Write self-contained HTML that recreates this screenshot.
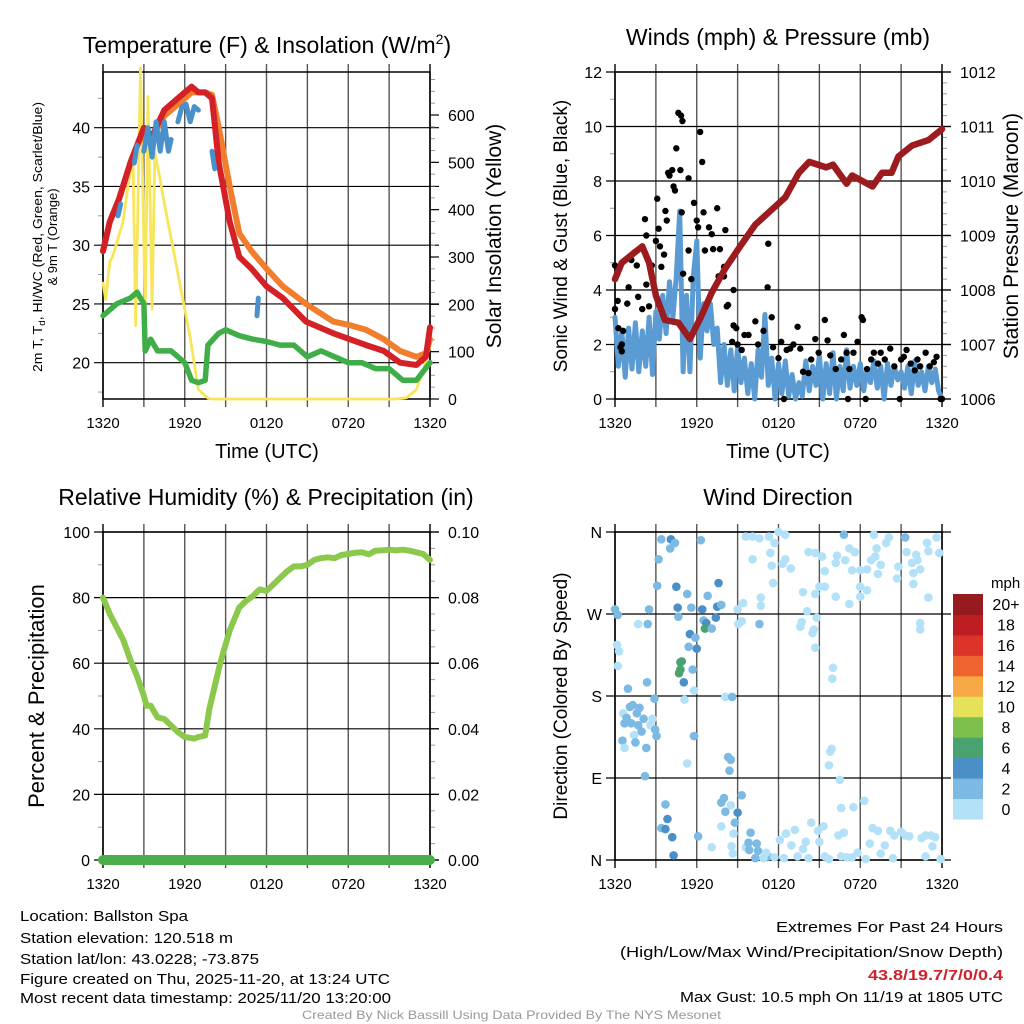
<!DOCTYPE html>
<html><head><meta charset="utf-8"><style>
html,body{margin:0;padding:0;background:#fff;}
svg{display:block;font-family:"Liberation Sans",sans-serif;}
</style></head><body>
<svg id="fig" width="1024" height="1024" viewBox="0 0 1024 1024">
<rect width="1024" height="1024" fill="#fff"/>
<!-- titles -->
<text x="267" y="53" font-size="23" text-anchor="middle">Temperature (F) &amp; Insolation (W/m<tspan dy="-9" font-size="14">2</tspan><tspan dy="9">)</tspan></text>
<text x="778" y="45" font-size="23" text-anchor="middle">Winds (mph) &amp; Pressure (mb)</text>
<text x="266" y="505" font-size="23" text-anchor="middle">Relative Humidity (%) &amp; Precipitation (in)</text>
<text x="778" y="505" font-size="23" text-anchor="middle">Wind Direction</text>
<!-- axis titles -->
<text x="267" y="458" font-size="20" text-anchor="middle">Time (UTC)</text>
<text x="778" y="458" font-size="20" text-anchor="middle">Time (UTC)</text>
<text transform="translate(42,237) rotate(-90)" font-size="13" text-anchor="middle" textLength="270" lengthAdjust="spacingAndGlyphs">2m T, T<tspan font-size="9" dy="3">d</tspan><tspan dy="-3">, HI/WC (Red, Green, Scarlet/Blue)</tspan></text>
<text transform="translate(57,237) rotate(-90)" font-size="13" text-anchor="middle">&amp; 9m T (Orange)</text>
<text transform="translate(501,236) rotate(-90)" font-size="21" text-anchor="middle">Solar Insolation (Yellow)</text>
<text transform="translate(567,236) rotate(-90)" font-size="19" text-anchor="middle">Sonic Wind &amp; Gust (Blue, Black)</text>
<text transform="translate(1018,236) rotate(-90)" font-size="21" text-anchor="middle">Station Pressure (Maroon)</text>
<text transform="translate(44,696) rotate(-90)" font-size="22" text-anchor="middle">Percent &amp; Precipitation</text>
<text transform="translate(567,696) rotate(-90)" font-size="19" text-anchor="middle">Direction (Colored By Speed)</text>
<g id="layers"></g>
<!-- footer -->
<g font-size="15">
<text x="20" y="921" textLength="168" lengthAdjust="spacingAndGlyphs">Location: Ballston Spa</text>
<text x="20" y="943" textLength="213" lengthAdjust="spacingAndGlyphs">Station elevation: 120.518 m</text>
<text x="20" y="964" textLength="239" lengthAdjust="spacingAndGlyphs">Station lat/lon: 43.0228; -73.875</text>
<text x="20" y="984" textLength="370" lengthAdjust="spacingAndGlyphs">Figure created on Thu, 2025-11-20, at 13:24 UTC</text>
<text x="20" y="1003" textLength="371" lengthAdjust="spacingAndGlyphs">Most recent data timestamp: 2025/11/20 13:20:00</text>
</g>
<g font-size="15">
<text x="776" y="932" textLength="227" lengthAdjust="spacingAndGlyphs">Extremes For Past 24 Hours</text>
<text x="620" y="957" textLength="383" lengthAdjust="spacingAndGlyphs">(High/Low/Max Wind/Precipitation/Snow Depth)</text>
<text x="868" y="980" textLength="135" lengthAdjust="spacingAndGlyphs" font-weight="bold" fill="#d0202a">43.8/19.7/7/0/0.4</text>
<text x="680" y="1002" textLength="323" lengthAdjust="spacingAndGlyphs">Max Gust: 10.5 mph On 11/19 at 1805 UTC</text>
</g>
<text x="302" y="1019" font-size="12" fill="#999" textLength="419" lengthAdjust="spacingAndGlyphs">Created By Nick Bassill Using Data Provided By The NYS Mesonet</text>
</svg>
<script>
// ---------- data ----------
const xTickLabels = ["1320","1920","0120","0720","1320"];
const tempTicks = [20,25,30,35,40];
const solarTicks = [0,100,200,300,400,500,600];
const windTicks = [0,2,4,6,8,10,12];
const presTicks = [1006,1007,1008,1009,1010,1011,1012];
const rhTicks = [0,20,40,60,80,100];
const precipTicks = ["0.00","0.02","0.04","0.06","0.08","0.10"];
const dirLabels = ["N","E","S","W","N"];
const speedBins = ["0","2","4","6","8","10","12","14","16","18","20+"];

const tHours = [0,0.5,1.2,2,2.5,3,3.5,4.5,5,6,6.5,7,7.5,8,8.5,9.3,10,10.9,12,13.2,14.9,16.9,18.1,19.3,20.6,21.8,23,23.7,24];
const tempRed = [29.5,32,34,37,38.5,40,39,41.5,42,43,43.5,43,43,42.5,37,32,29,28,26.5,25.5,23.5,22.5,22,21.5,21,20,19.8,20.5,23];
const temp9m =  [29.5,32,34,37,38.5,39.5,39,41,41.5,42.5,43,43,43,42.8,40,35,31,29.5,28,26.5,25,23.5,23.2,22.8,22,21,20.5,20.8,22];
const dHours = [0,0.5,1,2,2.5,3,3.1,3.5,4,5,6,6.5,7,7.5,7.7,8.5,9,10,11,12,13,14,15,16,17,18,19,20,21,22,23,24];
const dewpt =  [24,24.5,25,25.5,26,25,21,22,21,21,20,18.5,18.3,18.5,21.5,22.5,22.8,22.3,22,21.8,21.5,21.5,20.5,21,20.5,20,20,19.5,19.5,18.5,18.5,20];
const wcHours = [1.1,1.3,null,2.3,2.5,null,3.0,3.3,3.6,3.9,4.2,4.5,4.8,5.0,null,5.5,5.8,6.1,6.4,6.7,7.0,null,8.0,8.2,null,11.3,11.4];
const windChill=[32.5,33.5,null,37,38.5,null,38,40,37.5,40.5,38,40.5,38,39,null,40.5,41.8,42,40.5,41.8,41.5,null,38,36.5,null,24,25.5];
const sHours = [0,0.2,0.5,0.7,1.45,1.9,2.2,2.4,2.75,3.1,3.3,3.6,3.8,4.2,4.4,5.2,6.4,7,7.7,8,21.5,22.3,23,23.5,23.85,24];
const solar =  [245,210,290,300,372,463,512,155,700,180,639,190,520,463,430,309,130,20,2,0,0,3,20,60,97,110];

const pHours = [0,0.5,1,1.5,2,2.5,3,3.67,4.65,5.5,6.3,7.1,8.1,9.05,10.3,11.75,12.5,13.5,14.25,15.5,16,17,17.4,18.9,19.6,20.3,20.8,21.8,23,24];
const pressure=[1008.2,1008.5,1008.6,1008.7,1008.8,1008.5,1007.9,1007.45,1007.4,1007.1,1007.5,1007.95,1008.4,1008.75,1009.2,1009.53,1009.7,1010.15,1010.35,1010.25,1010.3,1009.95,1010.1,1009.9,1010.15,1010.15,1010.45,1010.65,1010.75,1010.95];
const windSpeed = [3,1.2,2.5,0.8,2.6,1.1,2.8,1.0,2.5,1.2,3.0,0.9,3.2,2.2,3.8,2.4,4.3,3.0,4.5,6.9,1.0,3.8,1.0,4.5,5.8,1.5,3.5,2.5,3.5,2.0,2.6,0.6,2.0,0.5,1.8,0.3,1.9,0.6,1.5,0.2,1.3,0.0,1.8,0.8,3.1,0.5,1.5,0.0,1.3,0.2,1.4,0.1,0.9,0.0,0.6,0.1,1.4,0.3,1.2,0.5,1.6,0.0,1.3,0.2,1.7,0.0,1.2,0.3,1.8,0.4,1.2,0.5,1.3,0.3,1.1,0.6,1.4,0.4,1.2,0.0,1.3,0.5,1.2,0.7,1.0,0.4,1.2,0.2,1.4,0.5,1.0,0.3,1.2,0.6,1.1,0.3,0.0];
const gustHours = [0,0,0.2,0.4,0.5,0.25,0.6,0.5,0.9,1.0,1.2,1.6,1.7,2.0,2.2,2.3,2.3,2.5,2.7,3.0,3.1,3.2,3.3,3.4,3.6,3.7,3.8,3.9,4.0,4.2,4.3,4.4,4.5,4.65,4.85,4.95,4.8,4.9,5.0,5.4,5.4,5.6,5.8,6.0,6.25,6.4,6.5,6.1,6.6,6.9,7.1,7.2,7.5,7.7,7.6,8.0,8.1,8.0,8.2,8.3,8.7,8.7,8.9,8.6,9.0,9.3,9.5,9.8,10.3,10.5,10.9,11.2,11.25,11.5,11.6,12.0,12.2,12.4,12.6,12.85,13.1,13.4,13.6,13.8,14.2,14.4,14.7,14.95,15.4,15.6,15.8,16.2,16.6,16.8,17.0,17.1,17.2,17.5,17.8,18.1,18.2,18.4,18.5,18.8,19.0,19.3,19.5,19.8,20.2,20.5,20.9,21.0,21.2,21.4,21.7,22.0,22.2,22.4,22.8,23.1,23.4,23.6,23.9,24];
const gust = [4.9,3.3,3.6,1.9,2.0,2.6,2.5,1.75,3.5,4.1,5.1,4.9,3.75,3.3,6.6,6.0,4.2,3.4,4.9,5.8,7.35,6.25,5.6,4.85,5.3,6.9,6.55,8.3,8.2,8.4,7.8,7.65,9.2,10.5,10.4,10.2,8.4,6.85,4.6,5.45,8.1,4.4,7.2,6.55,9.8,8.7,6.85,6.3,5.45,6.3,6.05,5.5,7.0,5.5,4.5,4.5,6.2,4.85,3.4,3.45,4.0,2.7,2.6,2.1,2.0,1.8,2.35,2.35,2.85,2.0,2.5,4.1,5.7,3.0,1.9,1.5,2.1,0,1.8,1.85,2.0,2.65,1.85,1.0,0.95,1.45,2.2,1.7,2.9,2.15,1.6,1.1,1.45,2.35,1.7,0,1.1,1.7,2.1,3.0,2.9,0,1.1,1.45,1.7,1.3,1.7,1.45,1.85,1.2,0,1.45,1.55,1.8,1.3,1.05,1.45,1.2,1.7,1.2,1.35,1.55,0,0];

const rhHours = [0,0.5,1,1.5,2,2.5,3,3.2,3.5,4,4.5,5,5.5,6,6.7,7,7.5,7.8,8.6,9.3,10,10.5,11,11.5,12,12.5,13,13.5,14,14.5,15,15.5,16,16.5,17,17.5,18,18.5,19,19.5,20,20.5,21,21.5,22,22.5,23,23.5,24];
const rh = [80,75,71,67,61,56,50,47,47,43.5,43,41,39,37.5,37,37.5,38,46,60,70,77,79,80.5,82.5,82,84,86,88,89.5,89.5,90,91.5,92,92.3,92,93,93.3,93.7,93.8,93.2,94.3,94.4,94.6,94.4,94.6,94.3,93.8,93.3,91.5];
const precipHours = [0,24];
const precip = [0,0];

const dirHours = [0,0.2,0.15,0.3,0.2,0.95,0.6,0.85,1.1,1.3,1.6,1.8,0.7,1.2,1.7,1.95,2.1,1.4,1.5,0.55,0.7,2.3,2.2,1.7,2.4,2.5,2.35,2.6,2.75,2.9,2.95,3.05,3.1,3.2,3.4,4.1,4.4,4.05,4.5,4.6,4.65,5.3,5.6,5.5,5.9,5.4,6.0,4.9,4.8,4.8,4.7,5.05,5.7,5.8,5.1,5.8,5.3,6.3,6.4,6.5,6.7,6.6,6.8,7.1,7.4,7.5,7.6,7.8,8.1,8.6,8.3,8.5,8.4,3.7,3.85,3.4,3.7,4.2,4.3,6.1,7.1,7.8,8.0,8.1,8.5,7.8,8.8,9.0,9.3,8.7,8.55,8.65,9.6,9.85,9.8,9.95,10.4,10.5,10.3,11.25,11.1,10.9,11.7,12.1,12.4,12.55,12.95,13.2,13.4,13.8,14.0,14.2,14.4,14.9,15.0,15.3,15.4,15.7,16.4,16.6,16.8,16.6,17.5,17.0,17.4,17.8,18.3,18.4,18.7,18.9,19.3,19.5,19.8,20.2,20.4,20.5,21.0,21.3,21.6,22.5,22.8,23.2,23.5,23.3,22.8,23.9,15.8,15.9,15.7,16.5,16.0,15.95,9.6,10.1,10.6,11.3,12.0,12.5,11.7,10.1,11.4,12.5,12.3,12.9,11.5,11.6,14.2,14.7,15.2,15.4,15.0,15.4,16.3,16.2,16.8,17.2,17.6,16.9,17.4,18.0,18.5,19.0,19.2,18.8,19.1,19.5,19.3,20.1,19.9,18.0,18.5,18.0,20.8,20.7,21.3,21.4,22.1,21.8,22.2,22.4,21.9,21.9,22.9,23.0,23.6,23.8,17.2,16.2,14.7,13.8,14.1,14.8,14.6,14.5,14.7,13.7,13.6,10.7,10.7,10.6,9.4,9.3,9.0,9.05,23.0,22.4,22.4];
const dirDeg = [275,269,236,229,213,188,161,156,168,170,161,167,150,150,148,141,155,137,129,131,123,123,92,259,259,275,195,148,155,177,143,136,301,330,352,352,348,342,300,277,267,292,277,248,244,234,232,218,217,209,205,195,209,186,176,136,106,351,275,263,260,254,290,254,266,278,304,280,179,179,113,110,98,61,45,35,34,25,5,26,14,63,68,53,60,37,41,52,71,29,15,7,14,11,19,30,18,10,2,4,8,2,3,22,2,29,16,33,4,12,20,2,41,32,20,37,4,1,27,4,30,57,58,3,3,8,65,1,18,35,32,7,16,32,2,27,31,27,26,24,27,27,25,15,4,1,119,122,104,88,211,199,355,355,353,355,360,357,348,330,337,330,325,320,323,304,338,337,333,317,300,300,334,326,357,342,338,329,318,318,319,357,342,329,333,324,314,354,348,300,296,289,322,309,354,338,335,326,329,319,315,303,348,339,354,337,281,289,292,294,273,266,253,249,233,261,256,288,279,259,282,262,275,259,288,260,253];
const dirSpeed = [3,2,1,1,1,3,1,3,3,3,3,3,2,3,3,3,3,1,3,3,1,3,3,1,3,3,3,1,1,3,3,3,3,3,3,4,3,3,4,4,3,3,3,4,3,3,4,6,6,6,6,4,3,1,1,3,1,3,4,3,4,6,3,3,4,4,4,3,1,3,3,3,3,3,4,3,4,4,4,3,1,3,3,3,1,1,3,4,3,1,1,1,1,3,3,3,3,3,3,3,1,1,1,1,1,1,1,1,1,1,1,1,1,1,1,1,1,1,1,1,1,1,1,1,1,1,1,1,1,1,1,1,1,1,1,1,1,1,1,1,1,1,1,1,1,1,1,1,1,1,1,1,1,1,1,1,1,1,1,1,1,1,1,1,1,1,1,1,1,1,1,1,1,1,2,1,1,1,1,1,1,1,1,1,1,1,1,1,1,1,1,1,1,1,3,1,1,1,1,1,1,1,1,1,1,1,1,1,1,1,1,1,1,1,1,1,1,1,1,3,1,1,1,1,1,1,1,1,1,1,1,1];

// ---------- helpers ----------
const NS = "http://www.w3.org/2000/svg";
const root = document.getElementById("layers");
function mk(tag, attrs, parent) {
  const el = document.createElementNS(NS, tag);
  for (const k in attrs) el.setAttribute(k, attrs[k]);
  (parent || root).appendChild(el);
  return el;
}
const P1 = {x0:103,x1:430,y0:72,y1:399};
const P2 = {x0:615,x1:942,y0:72,y1:399};
const P3 = {x0:103,x1:430,y0:532,y1:860};
const P4 = {x0:615,x1:942,y0:532,y1:860};
function xAt(P, h){ return P.x0 + h/24*(P.x1-P.x0); }
function yAt(P, v, lo, hi){ return P.y1 - (v-lo)/(hi-lo)*(P.y1-P.y0); }
const T_LO = 20 - (399-362.7)/11.75, T_HI = 20 + (362.7-72)/11.75;
const S_HI = (399-72)/((399-115)/600);
const yT = v => yAt(P1, v, T_LO, T_HI);
const yS = v => yAt(P1, v, 0, S_HI);
const yW = v => yAt(P2, v, 0, 12);
const yP = v => yAt(P2, v, 1006, 1012);
const yR = v => yAt(P3, v, 0, 100);
const yD = v => yAt(P4, v, 0, 360);

function pathFrom(P, hs, vs, yf) {
  let d = "", pen = false;
  for (let i=0;i<hs.length;i++){
    if (hs[i]===null || vs[i]===null){ pen=false; continue; }
    d += (pen?"L":"M") + xAt(P,hs[i]).toFixed(1) + " " + yf(vs[i]).toFixed(1) + " ";
    pen = true;
  }
  return d;
}

function frame(P, name, hGridVals, yf, leftLabels, rightVals, yfR, rightLabels, minorL, minorR) {
  const g = mk("g", {});
  
  
  for (let i=0;i<=8;i++){
    const x = P.x0 + i*(P.x1-P.x0)/8;
    const l = mk("line",{x1:x,x2:x,y1:P.y0-8,y2:P.y1+8,stroke:(i==0||i==8)?"#000":"#555","stroke-width":1.4},g);
    
    
  }
  hGridVals.forEach((v,i)=>{
    const y = yf(v);
    const l = mk("line",{x1:P.x0-9,x2:P.x1+9,y1:y,y2:y,stroke:"#000","stroke-width":1.2},g);
    
    
    const t = mk("text",{x:P.x0-13,y:y+6,"font-size":16,"text-anchor":"end"},g);
    t.textContent = leftLabels[i];
    
    
  });
  rightVals.forEach((v,i)=>{
    const y = yfR(v);
    const l = mk("line",{x1:P.x1,x2:P.x1+9,y1:y,y2:y,stroke:"#000","stroke-width":1.2},g);
    
    
    const t = mk("text",{x:P.x1+18,y:y+6,"font-size":16},g);
    t.textContent = rightLabels[i];
    
    
  });
  (minorL||[]).forEach(v=>{
    const y=yf(v);
    const l = mk("line",{x1:P.x0-5,x2:P.x0,y1:y,y2:y,stroke:"#999","stroke-width":1},g);
    
    
  });
  (minorR||[]).forEach(v=>{
    const y=yfR(v);
    const l = mk("line",{x1:P.x1,x2:P.x1+5,y1:y,y2:y,stroke:"#999","stroke-width":1},g);
    
    
  });
  const b = mk("rect",{x:P.x0,y:P.y0,width:P.x1-P.x0,height:P.y1-P.y0,fill:"none",stroke:"#000","stroke-width":1.5},g);
  
  
  xTickLabels.forEach((s,i)=>{
    const t = mk("text",{x:P.x0+i*(P.x1-P.x0)/4,y:P.y1+29,"font-size":15,"text-anchor":"middle"},g);
    t.textContent = s;
    
    
  });
}
function line(P, hs, vs, yf, color, w, name){
  const p = mk("path",{d:pathFrom(P,hs,vs,yf),fill:"none",stroke:color,"stroke-width":w,"stroke-linejoin":"round","stroke-linecap":"round"});
  
  
  return p;
}

// ---------- panel 1 ----------
frame(P1,"temperature",tempTicks,yT,tempTicks.map(String),solarTicks,yS,solarTicks.map(String),
  [17.5,22.5,27.5,32.5,37.5,42.5],[25,50,75,125,150,175,225,250,275,325,350,375,425,450,475,525,550,575,625,650,675]);
line(P1,sHours,solar,yS,"#f7e55a",2.8,"solar-insolation-line");
line(P1,dHours,dewpt,yT,"#3fae49",5.5,"dewpoint-line");
line(P1,tHours,temp9m,yT,"#f27d2c",6,"temp-9m-line");
line(P1,tHours,tempRed,yT,"#d42027",6,"temp-2m-line");
line(P1,wcHours,windChill,yT,"#4a91cc",5,"wind-chill-line");

// ---------- panel 2 ----------
frame(P2,"winds",windTicks,yW,windTicks.map(String),presTicks,yP,presTicks.map(String),
  [1,3,5,7,9,11],[1006.2,1006.4,1006.6,1006.8,1007.2,1007.4,1007.6,1007.8,1008.2,1008.4,1008.6,1008.8,1009.2,1009.4,1009.6,1009.8,1010.2,1010.4,1010.6,1010.8,1011.2,1011.4,1011.6,1011.8]);
const wsHours = windSpeed.map((v,i)=>i*0.25);
line(P2,wsHours,windSpeed,yW,"#5a9bd4",5,"sonic-wind-line");
const gg = mk("g",{});


gustHours.forEach((h,i)=>{
  const c = mk("circle",{cx:xAt(P2,h),cy:yW(gust[i]),r:3.2,fill:"#000"},gg);
  
  
});
line(P2,pHours,pressure,yP,"#9b1b1f",6.5,"pressure-line");

// ---------- panel 3 ----------
frame(P3,"humidity",rhTicks,yR,rhTicks.map(String),rhTicks,yR,precipTicks,
  [10,30,50,70,90],[5,10,15,25,30,35,45,50,55,65,70,75,85,90,95]);
line(P3,rhHours,rh,yR,"#8cc84b",6,"humidity-line");
line(P3,precipHours,precip.map(v=>v*1000),yR,"#4aaf48",10,"precipitation-line");

// ---------- panel 4 ----------
frame(P4,"direction",[0,90,180,270,360],yD,dirLabels,[],yD,[],[],[]);
const binColors = ["#b3e2f8","#7cbae4","#4a8fc7","#4aa36f","#7dc04b","#e6e15a","#f6a945","#ef632e","#dd3429","#bd1d23","#951b1e"];
const dg = mk("g",{});


dirHours.forEach((h,i)=>{
  const b = Math.min(10, Math.floor(dirSpeed[i]/2));
  const c = mk("circle",{cx:xAt(P4,h),cy:yD(dirDeg[i]),r:4.3,fill:binColors[b]},dg);
  
  
});
// colorbar
const cb = mk("g",{});


const cbTop = 594, cbBot = 819, bh = (cbBot-cbTop)/11;
speedBins.forEach((s,i)=>{
  const y = cbBot - (i+1)*bh;
  const r = mk("rect",{x:953,y:y,width:30,height:bh+0.5,fill:binColors[i]},cb);
  
  
  const t = mk("text",{x:1006,y:y+bh/2+6,"font-size":16,"text-anchor":"middle"},cb);
  t.textContent = s;
  
  
});
const mph = mk("text",{x:991,y:588,"font-size":15},cb);
mph.textContent = "mph";


</script>
</body></html>
